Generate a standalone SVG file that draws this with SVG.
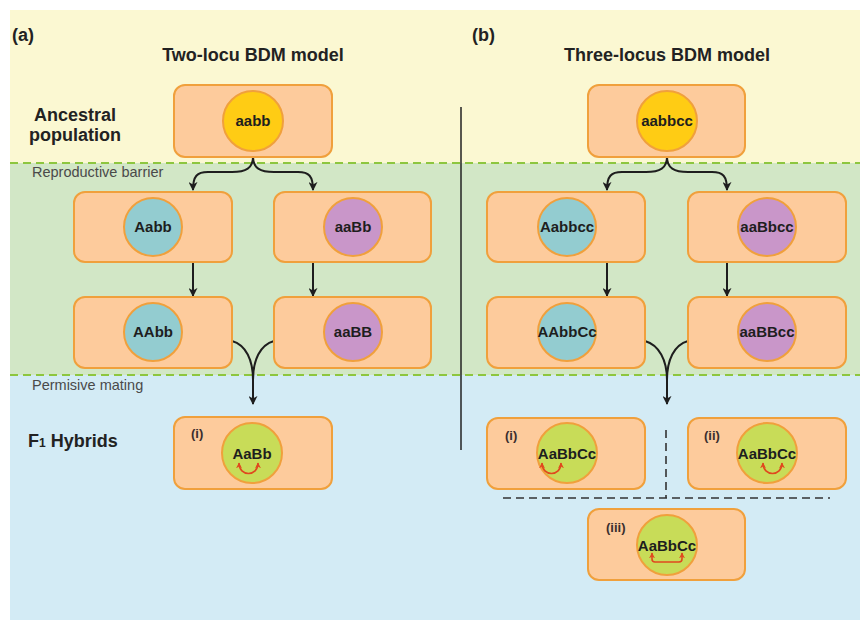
<svg xmlns="http://www.w3.org/2000/svg" width="860" height="621" viewBox="0 0 860 621">
  <style>
    .box { fill: #FDCB9C; stroke: #F0A03C; stroke-width: 2; }
    .cell { stroke: #F0A03C; stroke-width: 2; }
    .gold { fill: #FFCC14; }
    .teal { fill: #93CCD0; }
    .purple { fill: #C996C9; }
    .lime { fill: #C8DC58; }
    .geno { font-family: "Liberation Sans", Arial, sans-serif; font-weight: bold; font-size: 15px; fill: #1E1E1E; text-anchor: middle; }
    .tag { font-family: "Liberation Sans", Arial, sans-serif; font-weight: bold; font-size: 13px; fill: #3A2E2E; }
    .head { font-family: "Liberation Sans", Arial, sans-serif; font-weight: bold; font-size: 18px; fill: #222; }
    .note { font-family: "Liberation Sans", Arial, sans-serif; font-size: 14.5px; fill: #4A4A4A; }
    .flow { fill: none; stroke: #1E1E1E; stroke-width: 2; }
    .band { fill: none; stroke: #8DC63F; stroke-width: 2; stroke-dasharray: 8 5; }
    .epi { fill: none; stroke: #E0481E; stroke-width: 1.6; }
    .guide { fill: none; stroke: #333; stroke-width: 1.6; stroke-dasharray: 8 5; }
  </style>
  <defs>
    <marker id="arrow" viewBox="0 0 10 10" refX="9" refY="5" markerWidth="9" markerHeight="9" markerUnits="userSpaceOnUse" orient="auto">
      <path d="M0,0 L10,5 L0,10 L3,5 z" fill="#1E1E1E"/>
    </marker>
    <marker id="redtip" viewBox="0 0 10 10" refX="9" refY="5" markerWidth="6" markerHeight="6" markerUnits="userSpaceOnUse" orient="auto-start-reverse">
      <path d="M0,0 L10,5 L0,10 L3,5 z" fill="#E0481E"/>
    </marker>
  </defs>

  <!-- background bands -->
  <rect x="0" y="0" width="860" height="621" fill="#FFFFFF"/>
  <rect x="10" y="10" width="850" height="153" fill="#FBF8D2"/>
  <rect x="10" y="163" width="850" height="212" fill="#D2E7C6"/>
  <rect x="10" y="375" width="850" height="245" fill="#D3EBF5"/>
  <line class="band" x1="10" y1="163" x2="860" y2="163"/>
  <line class="band" x1="10" y1="375" x2="860" y2="375"/>

  <!-- headings and row labels -->
  <text class="head" x="12" y="41" font-size="17">(a)</text>
  <text class="head" x="472" y="41" font-size="17">(b)</text>
  <text class="head" x="253" y="61" text-anchor="middle">Two-locu BDM model</text>
  <text class="head" x="667" y="61" text-anchor="middle">Three-locus BDM model</text>
  <text class="head" x="75" y="121" text-anchor="middle">Ancestral</text>
  <text class="head" x="75" y="141" text-anchor="middle">population</text>
  <text class="note" x="32" y="177">Reproductive barrier</text>
  <text class="note" x="32" y="390">Permisive mating</text>
  <text class="head" x="28" y="447">F<tspan font-size="12">1</tspan> Hybrids</text>

  <!-- panel separator -->
  <line x1="461" y1="107" x2="461" y2="450" stroke="#222" stroke-width="1.5"/>

  <!-- connectors -->
  <g id="connectors">
    <path class="flow" d="M253,157 C253,168 246,172 232,172 L208,172 C197,172 193,176 193,190" marker-end="url(#arrow)"/>
    <path class="flow" d="M253,157 C253,168 260,172 274,172 L298,172 C309,172 313,176 313,190" marker-end="url(#arrow)"/>
    <path class="flow" d="M193,262 L193,296" marker-end="url(#arrow)"/>
    <path class="flow" d="M313,262 L313,296" marker-end="url(#arrow)"/>
    <path class="flow" d="M232,341 C246,345 253,360 253,380"/>
    <path class="flow" d="M274,341 C260,345 253,360 253,380 L253,404" marker-end="url(#arrow)"/>

    <path class="flow" d="M667,157 C667,168 660,172 646,172 L622,172 C611,172 607,176 607,190" marker-end="url(#arrow)"/>
    <path class="flow" d="M667,157 C667,168 674,172 688,172 L712,172 C723,172 727,176 727,190" marker-end="url(#arrow)"/>
    <path class="flow" d="M607,262 L607,296" marker-end="url(#arrow)"/>
    <path class="flow" d="M727,262 L727,296" marker-end="url(#arrow)"/>
    <path class="flow" d="M645,341 C659,345 667,360 667,380"/>
    <path class="flow" d="M688,341 C674,345 667,360 667,380 L667,404" marker-end="url(#arrow)"/>

    <path class="guide" d="M666,430 V498"/>
    <path class="guide" d="M503,498 H830"/>
  </g>

  <!-- two-locus panel -->
  <g id="a-ancestral">
    <rect class="box" x="174" y="85" width="158" height="72" rx="11"/>
    <circle class="cell gold" cx="253" cy="121" r="30"/>
    <text class="geno" x="253" y="126">aabb</text>
  </g>
  <g id="a-Aabb">
    <rect class="box" x="74" y="192" width="158" height="70" rx="11"/>
    <circle class="cell teal" cx="153" cy="227" r="29"/>
    <text class="geno" x="153" y="232">Aabb</text>
  </g>
  <g id="a-aaBb">
    <rect class="box" x="274" y="192" width="157" height="70" rx="11"/>
    <circle class="cell purple" cx="353" cy="227" r="29"/>
    <text class="geno" x="353" y="232">aaBb</text>
  </g>
  <g id="a-AAbb">
    <rect class="box" x="74" y="297" width="158" height="71" rx="11"/>
    <circle class="cell teal" cx="153" cy="332" r="29"/>
    <text class="geno" x="153" y="337">AAbb</text>
  </g>
  <g id="a-aaBB">
    <rect class="box" x="274" y="297" width="157" height="71" rx="11"/>
    <circle class="cell purple" cx="353" cy="332" r="29"/>
    <text class="geno" x="353" y="337">aaBB</text>
  </g>
  <g id="a-hybrid">
    <rect class="box" x="174" y="417" width="158" height="72" rx="11"/>
    <text class="tag" x="191" y="438">(i)</text>
    <circle class="cell lime" cx="252" cy="453" r="30"/>
    <text class="geno" x="252" y="459">AaBb</text>
    <path class="epi" d="M239,463 C239,477 258,477 258,463" marker-start="url(#redtip)" marker-end="url(#redtip)"/>
  </g>

  <!-- three-locus panel -->
  <g id="b-ancestral">
    <rect class="box" x="588" y="85" width="157" height="72" rx="11"/>
    <circle class="cell gold" cx="667" cy="121" r="30"/>
    <text class="geno" x="667" y="126">aabbcc</text>
  </g>
  <g id="b-Aabbcc">
    <rect class="box" x="487" y="192" width="158" height="70" rx="11"/>
    <circle class="cell teal" cx="567" cy="227" r="29"/>
    <text class="geno" x="567" y="232">Aabbcc</text>
  </g>
  <g id="b-aaBbcc">
    <rect class="box" x="688" y="192" width="158" height="70" rx="11"/>
    <circle class="cell purple" cx="767" cy="227" r="29"/>
    <text class="geno" x="767" y="232">aaBbcc</text>
  </g>
  <g id="b-AAbbCc">
    <rect class="box" x="487" y="297" width="158" height="71" rx="11"/>
    <circle class="cell teal" cx="567" cy="332" r="29"/>
    <text class="geno" x="567" y="337">AAbbCc</text>
  </g>
  <g id="b-aaBBcc">
    <rect class="box" x="688" y="297" width="158" height="71" rx="11"/>
    <circle class="cell purple" cx="767" cy="332" r="29"/>
    <text class="geno" x="767" y="337">aaBBcc</text>
  </g>
  <g id="b-hybrid-i">
    <rect class="box" x="487" y="418" width="158" height="71" rx="11"/>
    <text class="tag" x="505" y="440">(i)</text>
    <circle class="cell lime" cx="567" cy="453" r="30"/>
    <text class="geno" x="567" y="459">AaBbCc</text>
    <path class="epi" d="M542,463 C542,477 561,477 561,463" marker-start="url(#redtip)" marker-end="url(#redtip)"/>
  </g>
  <g id="b-hybrid-ii">
    <rect class="box" x="688" y="418" width="158" height="71" rx="11"/>
    <text class="tag" x="704" y="440">(ii)</text>
    <circle class="cell lime" cx="767" cy="453" r="30"/>
    <text class="geno" x="767" y="459">AaBbCc</text>
    <path class="epi" d="M763,463 C763,477 782,477 782,463" marker-start="url(#redtip)" marker-end="url(#redtip)"/>
  </g>
  <g id="b-hybrid-iii">
    <rect class="box" x="588" y="509" width="157" height="71" rx="11"/>
    <text class="tag" x="606" y="532">(iii)</text>
    <circle class="cell lime" cx="667" cy="545" r="30"/>
    <text class="geno" x="667" y="551">AaBbCc</text>
    <path class="epi" d="M652,553 L652,559 Q652,562 655,562 L679,562 Q682,562 682,559 L682,553" marker-start="url(#redtip)" marker-end="url(#redtip)"/>
  </g>
</svg>
